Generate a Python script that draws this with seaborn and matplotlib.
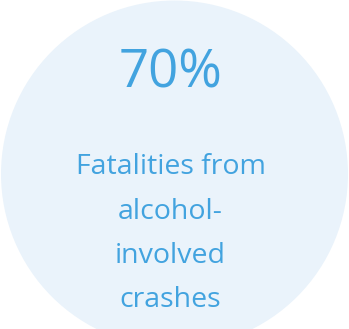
import matplotlib
matplotlib.use("Agg")
import matplotlib.pyplot as plt
import seaborn as sns
from matplotlib.patches import Circle

sns.set_theme(style="white")
plt.rcParams['font.family'] = ['Open Sans', 'DejaVu Sans']

value_label = "70%"
caption_lines = ["Fatalities from", "alcohol-", "involved", "crashes"]

W, H = 349, 329
fig = plt.figure(figsize=(W / 100, H / 100), dpi=100)
ax = fig.add_axes([0, 0, 1, 1])
ax.set_xlim(0, W)
ax.set_ylim(H, 0)
ax.axis("off")

ax.add_patch(Circle((174.5, 174), 173.5, facecolor="#EAF3FB", edgecolor="none"))

color = "#42A3DF"
ax.text(170.5, 87, value_label, ha="center", va="baseline", fontsize=38, color=color)
baselines = [174, 219, 263, 307]
for line, yb in zip(caption_lines, baselines):
    ax.text(170.5, yb, line, ha="center", va="baseline", fontsize=20.5, color=color)

fig.savefig("out.png", dpi=100)
